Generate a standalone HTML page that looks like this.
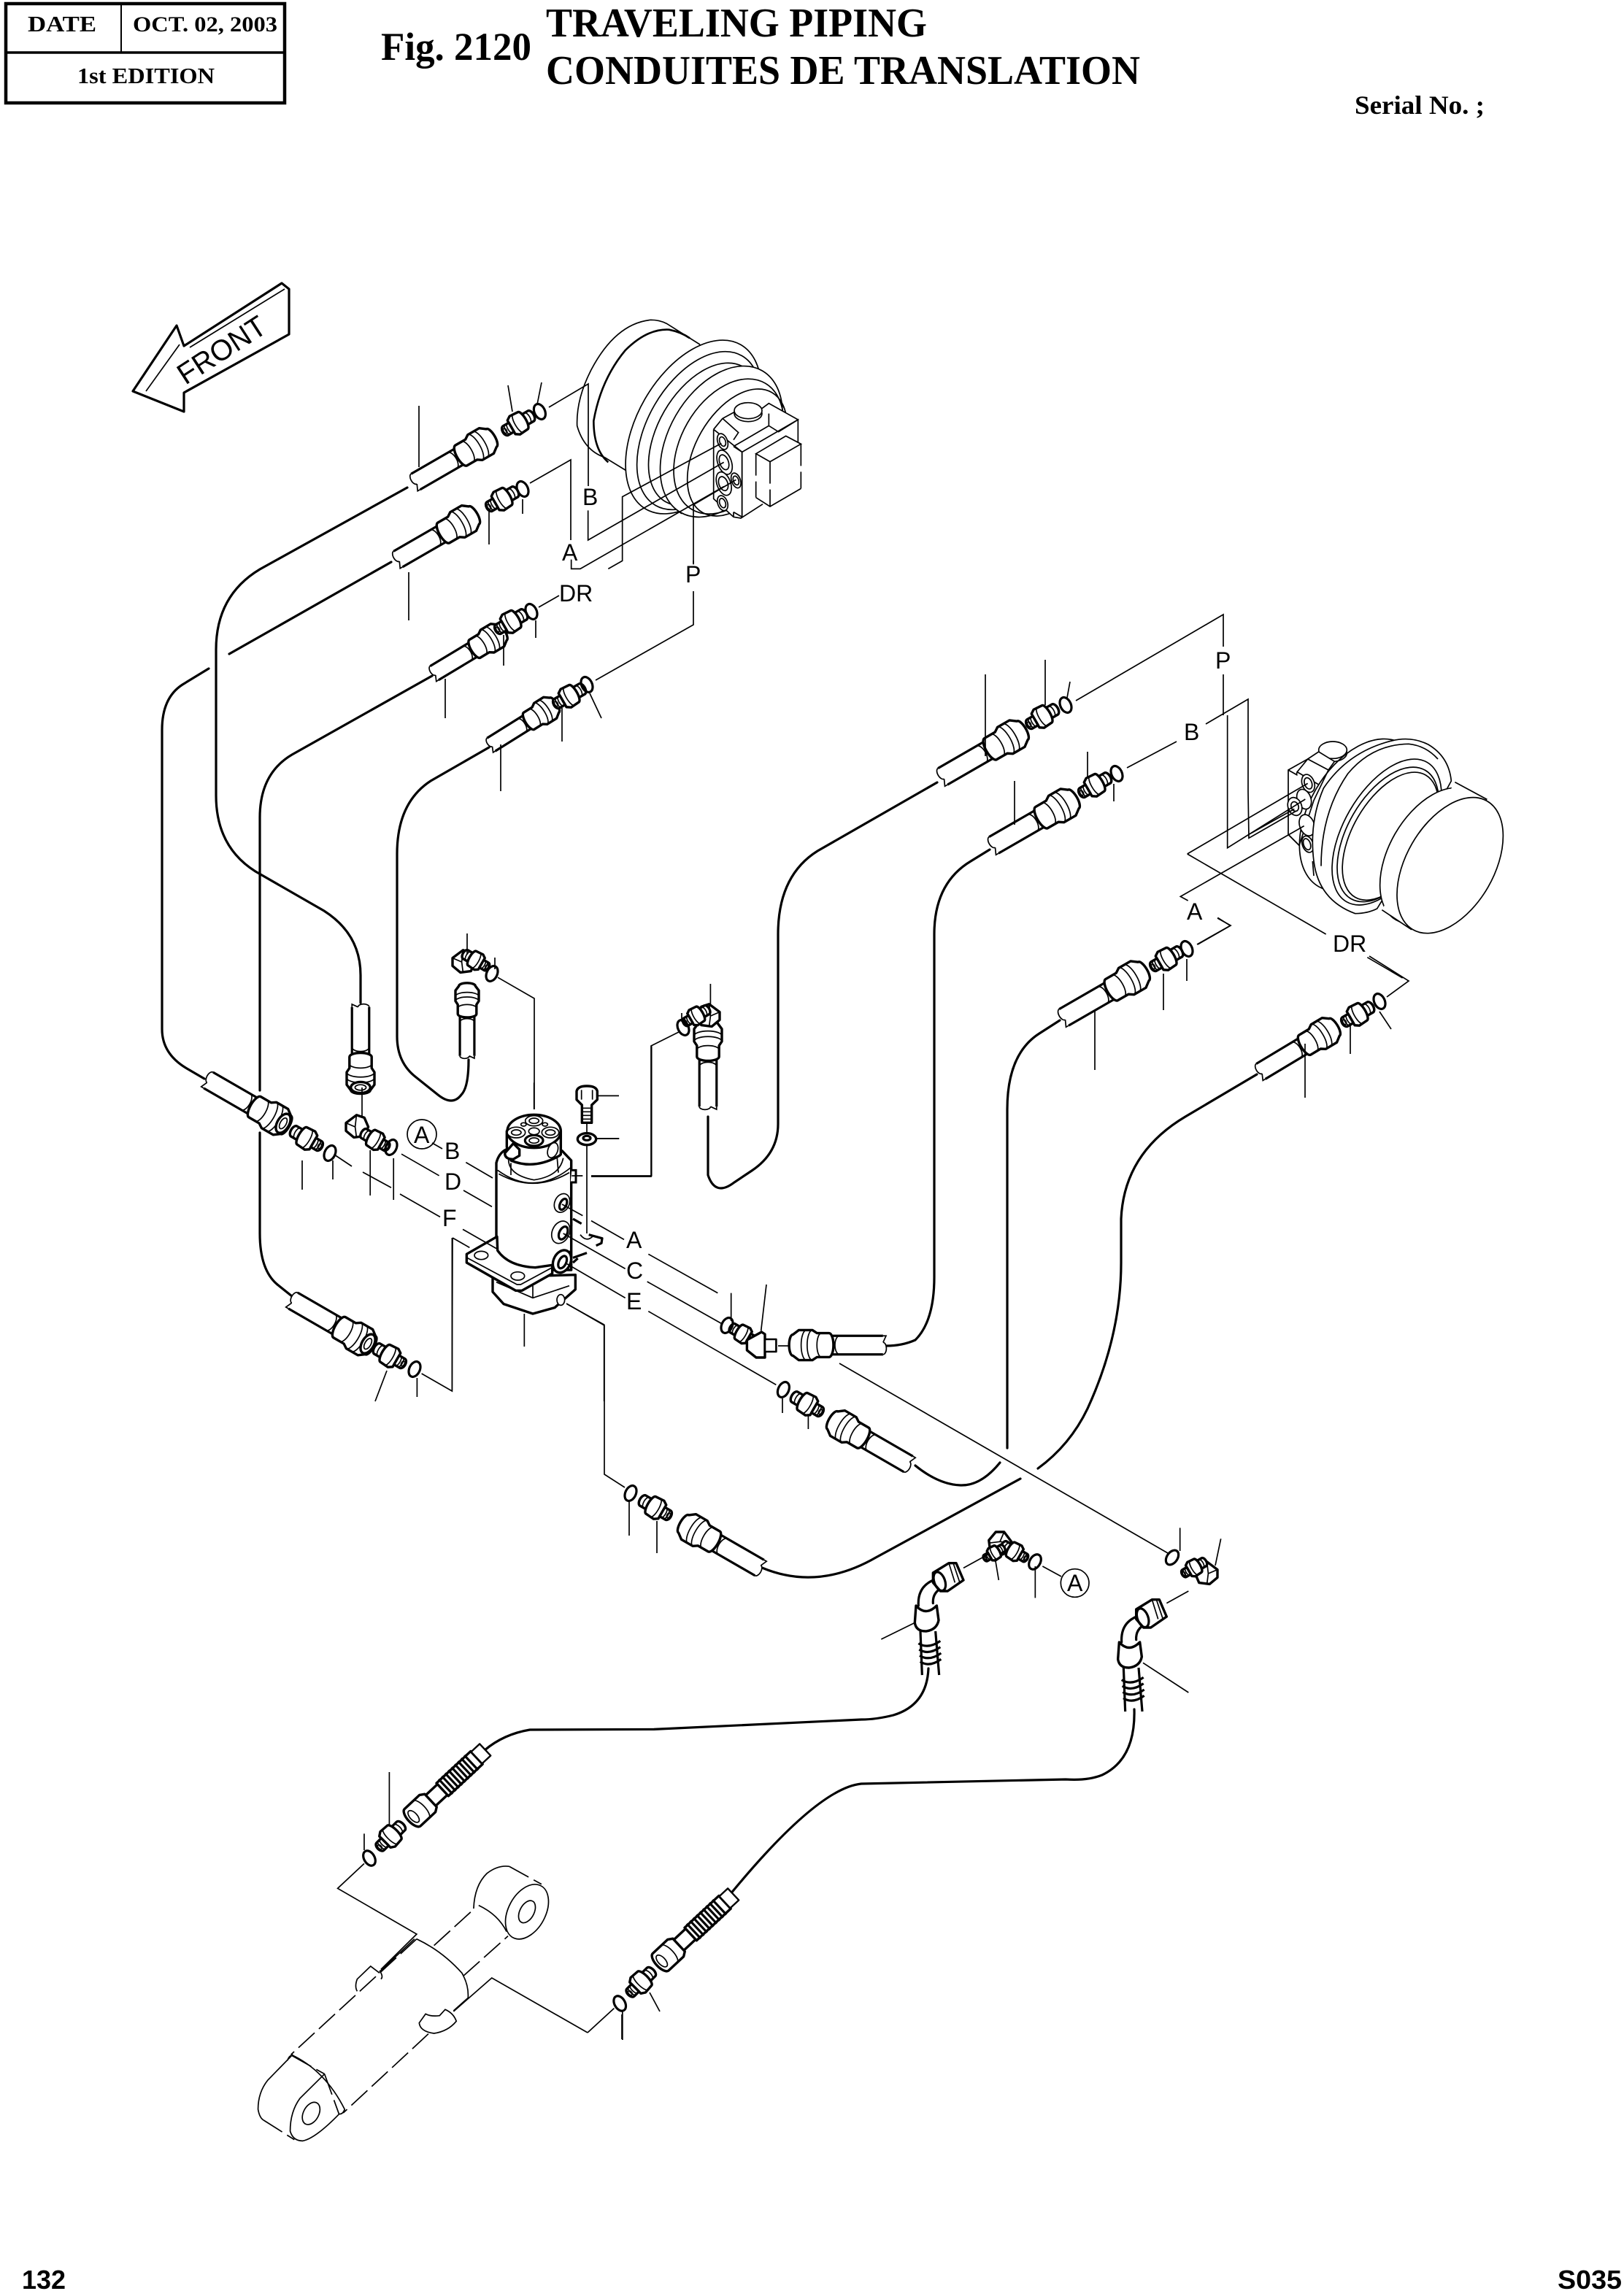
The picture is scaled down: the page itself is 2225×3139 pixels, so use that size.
<!DOCTYPE html>
<html><head><meta charset="utf-8"><style>
html,body{margin:0;padding:0;background:#fff}
svg{display:block}
svg *{vector-effect:non-scaling-stroke}
.t{fill:none;stroke:#000;stroke-width:1.7}
.k{fill:none;stroke:#000;stroke-width:3.2;stroke-linejoin:round}
.w{fill:#fff;stroke:#000;stroke-width:1.7}
.W{fill:#fff;stroke:#000;stroke-width:3.4;stroke-linejoin:round}
.d{fill:none;stroke:#000;stroke-width:1.7;stroke-dasharray:30 8}
.p{fill:none;stroke:#000;stroke-width:3.2;stroke-linecap:round}
text{fill:#000}
.s{font-family:"Liberation Serif",serif;font-weight:bold}
.l{font-family:"Liberation Sans",sans-serif;font-size:16px}
.f{font-family:"Liberation Sans",sans-serif;font-weight:bold;font-size:18px}
</style></head><body>
<svg xmlns="http://www.w3.org/2000/svg" width="2225" height="3139" viewBox="0 0 1112.5 1569.5">
<defs>
<g id="h">
<path class="w" d="M2,-6.2 L40,-6.2 L40,6.2 L2,6.2Z" style="stroke:none"/>
<path class="k" d="M2,-6.2 L40,-6.2 M2,6.2 L40,6.2"/>
<path class="w" d="M2,-6.2 a2.2,4 0 0 0 0,8 M2,1.800 L0,6.200 L2,6.200"/>
<path class="t" d="M31,-6.2 a3,6.2 0 0 1 0,12.4"/>
<path class="W" d="M38,-8 l8,0 l3,-2 l9,0 l4,3 a2.5,7 0 0 1 0,14 l-4,3 l-9,0 l-3,-2 l-8,0 a3,8 0 0 1 0,-16z"/>
<path class="t" d="M49,-10 a3.500,10 0 0 1 0,20 M53,-10 a3.500,10 0 0 1 0,20 M43,-8 a3,8 0 0 1 0,16"/>
</g>
<g id="hf">
<use href="#h"/>
<ellipse class="W" cx="60" cy="0" rx="4" ry="7"/>
<ellipse class="t" cx="60" cy="0" rx="2" ry="4"/>
</g>
<g id="fit">
<path class="W" d="M-11,-4.500 h8 v9 h-8 a2.5,4.500 0 0 1 0,-9z"/>
<path class="t" d="M-8,-4.500 a2,4.500 0 0 0 0,9"/>
<path class="W" d="M-4,-7.500 l7,-.5 l3,2 v12 l-3,2 l-7,-.5 a2.500,7.500 0 0 1 0,-15z"/>
<path class="W" d="M6,-4 h5 a2.5,4 0 0 1 0,8 h-5 z"/>
<path class="t" d="M7.500,-4 a1.500,4 0 0 1 0,8 M9.500,-4 a1.500,4 0 0 1 0,8 M0,-8 a2.500,8 0 0 1 0,16"/>
<ellipse class="t" cx="11.500" cy="0" rx="1.200" ry="2"/>
</g>
<ellipse id="o" class="k" cx="0" cy="0" rx="3.600" ry="5.500"/>
<g id="elb">
<path class="W" d="M-10,-3 L-2,-9 L4,-7 L7,0 L4,7 L-4,8 L-10,3Z"/>
<path class="t" d="M-2,-9 L-3,0 L-10,-3 M-3,0 L-2,8"/>
</g>
<g id="rib">
<path class="W" d="M10,-5 L32,-5 L32,5 L10,5Z"/>
<path class="W" d="M22,-6 L54,-6 L54,6 L22,6Z"/>
<path class="k" d="M25,-7V7M28,-7V7M31,-7V7M34,-7V7M37,-7V7M40,-7V7M43,-7V7M46,-7V7M49,-7V7"/>
<path class="W" d="M54,-5.5 L62,-5.5 L62,5.5 L54,5.5Z" style="stroke-width:2.4"/>
<path class="W" d="M-6,-8 h14 l3,2 v12 l-3,2 h-14 a3.5,8 0 0 1 0,-16z"/>
<ellipse class="t" cx="-5" cy="0" rx="2.5" ry="5"/>
<path class="t" d="M2,-8 a3,8 0 0 1 0,16"/>
</g>
<g id="bent">
<path class="p" d="M175,420 Q170,335 250,310 M235,410 Q232,365 275,345"/>
<path class="W" d="M235,285 L300,245 L330,245 L360,315 L295,360 L265,360 L235,325Z"/>
<ellipse class="k" cx="262" cy="320" rx="22" ry="40" transform="rotate(-20 262 320)"/>
<path class="t" d="M300,245 L325,325 M318,245 L345,325"/>
<path class="W" d="M165,420 L160,490 Q165,525 205,525 Q250,520 258,480 L250,420 Q205,465 165,420Z"/>
<path class="k" d="M183,525 L190,705 M245,525 L260,705"/>
<path class="k" d="M175,575 Q215,600 265,565 M178,600 Q215,625 265,590 M180,625 Q220,650 268,615 M182,650 Q220,675 268,640"/>
</g>
</defs>

<!-- header -->
<rect x="4" y="2.5" width="191" height="68" fill="none" stroke="#000" stroke-width="4.5"/>
<path d="M4,36H195" stroke="#000" stroke-width="3.5"/><path d="M83,3V36" stroke="#000" stroke-width="2"/>
<text class="s" x="19" y="21.5" font-size="15.5" textLength="47" lengthAdjust="spacingAndGlyphs">DATE</text>
<text class="s" x="91" y="21.5" font-size="15" textLength="99" lengthAdjust="spacingAndGlyphs">OCT. 02, 2003</text>
<text class="s" x="53" y="57" font-size="15.5" textLength="94" lengthAdjust="spacingAndGlyphs">1st EDITION</text>
<text class="s" x="261" y="41" font-size="27" textLength="103" lengthAdjust="spacingAndGlyphs">Fig. 2120</text>
<text class="s" x="374" y="25" font-size="28" textLength="261" lengthAdjust="spacingAndGlyphs">TRAVELING PIPING</text>
<text class="s" x="374" y="57.5" font-size="28" textLength="407" lengthAdjust="spacingAndGlyphs">CONDUITES DE TRANSLATION</text>
<text class="s" x="928" y="78" font-size="18" textLength="89" lengthAdjust="spacingAndGlyphs">Serial No. ;</text>
<text class="f" x="15" y="1568" textLength="30" lengthAdjust="spacingAndGlyphs">132</text>
<text class="f" x="1067" y="1568" textLength="44" lengthAdjust="spacingAndGlyphs">S035</text>

<!-- FRONT arrow -->
<path class="k" d="M91,268 L121,223 L126,237 L193,194 L198,198 L198,229 L126,269 L126,282 Z"/>
<path class="t" d="M100,268 L123,236 M130,238 L195,198"/>
<text class="l" transform="translate(127,264) rotate(-33)" style="font-size:20px" textLength="68" lengthAdjust="spacingAndGlyphs">FRONT</text>

<!-- top motor -->
<g transform="translate(350,210) scale(.16667)">
<path class="w" d="M475,675 L385,620 Q300,590 272,490 Q268,380 330,260 Q430,70 575,55 Q610,55 640,70 L775,155 L1000,500 L700,850Z"/>
<path class="t" style="stroke-width:2.6" d="M400,640 Q340,590 340,470 Q370,300 470,180 Q560,90 650,95 Q700,105 735,130"/>
<ellipse class="w" cx="750" cy="495" rx="390" ry="230" transform="rotate(-60 750 495)"/>
<ellipse class="t" cx="772" cy="510" rx="355" ry="210" transform="rotate(-60 772 510)"/>
<ellipse class="w" cx="795" cy="525" rx="320" ry="190" transform="rotate(-60 795 525)"/>
<ellipse class="w" cx="865" cy="555" rx="336" ry="216" transform="rotate(-60 865 555)"/>
<ellipse class="t" cx="895" cy="575" rx="300" ry="195" transform="rotate(-60 895 575)"/>
<ellipse class="t" cx="930" cy="600" rx="285" ry="170" transform="rotate(-60 930 600)"/>
<path class="w" d="M833,505 L870,460 L1030,420 L1060,398 L1180,465 L1180,560 L1192,565 L1192,748 L1065,822 L1035,810 L950,865 L915,865 L833,790Z" stroke="none" style="stroke:none"/>
<path class="t" d="M833,505 L950,598 L950,865 M833,505 L833,790 L915,865 L945,870 L1035,812 M915,845 L915,865 M915,845 L950,865"/>
<path class="t" d="M870,460 L935,518 L915,548 M833,505 L870,460 M915,575 L1060,490 L1100,515 L1180,465 L1060,398 L1030,420 M915,575 L950,598 L1180,465 L1180,560 M1060,490 L1060,440 M870,460 L925,430"/>
<ellipse class="w" cx="975" cy="440" rx="57" ry="33"/><ellipse class="w" cx="975" cy="428" rx="57" ry="33"/>
<path class="w" d="M1007,605 L1130,532 L1192,565 L1065,638Z"/>
<path class="d" d="M1007,605 L1007,785 M1192,565 L1192,748 M1065,638 L1065,822"/>
<path class="t" d="M1007,785 L1065,822 L1192,748 M950,600 L950,860"/>
<ellipse class="w" cx="870" cy="555" rx="20" ry="34" transform="rotate(-20 870 555)"/><ellipse class="t" cx="870" cy="555" rx="12" ry="20" transform="rotate(-20 870 555)"/>
<ellipse class="w" cx="878" cy="640" rx="28" ry="52" transform="rotate(-20 878 640)"/><ellipse class="t" cx="876" cy="640" rx="18" ry="32" transform="rotate(-20 876 640)"/>
<ellipse class="w" cx="875" cy="728" rx="28" ry="50" transform="rotate(-20 875 728)"/><ellipse class="t" cx="873" cy="728" rx="18" ry="30" transform="rotate(-20 873 728)"/>
<ellipse class="w" cx="925" cy="715" rx="18" ry="32" transform="rotate(-20 925 715)"/><ellipse class="t" cx="925" cy="715" rx="11" ry="19" transform="rotate(-20 925 715)"/>
<ellipse class="w" cx="870" cy="808" rx="20" ry="32" transform="rotate(-20 870 808)"/><ellipse class="t" cx="870" cy="808" rx="12" ry="20" transform="rotate(-20 870 808)"/>
<path class="t" d="M750,1060 L750,815 L925,712 M400,1078 L458,1045 L458,782 L865,562 M317,838 L317,960 L875,640 M248,1040 L248,1078 L285,1078 L875,740"/>
</g>

<!-- right motor -->
<g transform="translate(790,490) scale(.16667)">
<ellipse class="w" cx="738" cy="155" rx="58" ry="35"/><ellipse class="w" cx="738" cy="143" rx="58" ry="35"/>
<path class="w" d="M555,225 L635,180 L680,150 L745,190 L720,225 L660,350 L600,535 L555,490Z"/>
<path class="t" d="M590,235 L635,180 L720,225 M555,225 L590,245 L590,235 M590,232 L680,285 M555,490 L600,535"/>
<ellipse class="w" cx="850" cy="410" rx="340" ry="210" transform="rotate(-60 850 410)" style="fill:none"/>
<ellipse class="w" cx="637" cy="280" rx="25" ry="38" transform="rotate(-20 637 280)"/><ellipse class="t" cx="637" cy="280" rx="15" ry="24" transform="rotate(-20 637 280)"/>
<ellipse class="w" cx="620" cy="345" rx="28" ry="42" transform="rotate(-20 620 345)"/>
<ellipse class="w" cx="582" cy="375" rx="28" ry="38" transform="rotate(-20 582 375)"/><ellipse class="t" cx="582" cy="375" rx="15" ry="20" transform="rotate(-20 582 375)"/>
<ellipse class="w" cx="632" cy="452" rx="30" ry="45" transform="rotate(-20 632 452)"/>
<ellipse class="w" cx="635" cy="530" rx="22" ry="35" transform="rotate(-20 635 530)"/><ellipse class="t" cx="632" cy="530" rx="14" ry="24" transform="rotate(-20 632 530)"/>
<path class="w" d="M1225,270 Q1215,170 1130,120 Q1060,85 980,105 Q800,150 700,300 Q640,440 660,600 Q680,760 830,815 Q880,815 920,795 L1100,500Z"/>
<path class="t" d="M660,660 L655,600 M690,620 Q690,400 800,240 Q900,120 1050,118 Q1120,125 1170,180"/>
<ellipse class="w" cx="960" cy="480" rx="331" ry="176" transform="rotate(-60 960 480)"/>
<ellipse class="t" cx="965" cy="490" rx="305" ry="165" transform="rotate(-60 965 490)"/>
<ellipse class="t" cx="975" cy="497" rx="290" ry="155" transform="rotate(-60 975 497)"/>
<path class="w" d="M935,540 L1240,275 L1370,345 L1060,880 L940,800Z" style="stroke:none"/>
<ellipse class="w" cx="1150" cy="577" rx="305" ry="180" transform="rotate(-60 1150 577)"/>
<path class="w" d="M1240,275 L1370,345 L1060,880 L940,800" style="fill:#fff"/>
<ellipse class="w" cx="1220" cy="617" rx="305" ry="180" transform="rotate(-60 1220 617)"/>
<path class="t" d="M390,0 L390,315 L393,505 L585,395 M393,490 L580,385 M305,0 L305,545 L625,345 M140,570 L635,280 M140,570 L710,900 M880,995 L1025,1080 M143,762 L112,745 L620,455 M265,832 L317,865 L183,942"/>
</g>

<!-- pipes -->
<path class="p" d="M279,334 L178,390 Q148,408 148,445 L148,545 Q148,580 175,597 L222,624 Q247,640 247,668 V687"/>
<path class="p" d="M268,385 L157,448 M143,458 L125,469 Q111,478 111,500 V705 Q111,722 128,732 L140,739"/>
<path class="p" d="M296,463 L200,517 Q178,530 178,560 V747 M178,776 V845 Q178,870 190,880 L200,888"/>
<path class="p" d="M335,512 L295,535 Q272,550 272,585 V710 Q272,728 285,738 L300,750 Q310,758 316,750 Q321,745 321,726"/>
<path class="p" d="M642,536 L560,583 Q533,600 533,640 V770 Q533,790 515,802 L503,810 Q490,820 485,805 V765"/>
<path class="p" d="M678,582 L665,590 Q640,605 640,640 V875 Q640,905 627,918 Q618,922 607,922"/>
<path class="p" d="M726,699 L712,708 Q690,722 690,760 V992 M685,1002 Q672,1018 658,1017.500 Q643,1017 627,1004"/>
<path class="p" d="M861,736 L812,765 Q770,790 768,835 V865 Q768,915 745,965 Q733,990 711,1006 M699,1013 L600,1067 Q560,1090 522,1074"/>
<path class="p" d="M636,1143 Q635,1168 612,1175 Q600,1178 590,1178 L448,1184.7 L363,1185 Q345,1188 332,1199"/>
<path class="p" d="M777,1171 Q778,1205 755,1216 Q745,1220 730,1219 L590,1222 Q560,1225 500,1298"/>

<!-- hoses -->
<use href="#h" transform="translate(283,331) rotate(-30)"/>
<use href="#h" transform="translate(271,384) rotate(-30)"/>
<use href="#h" transform="translate(296,462) rotate(-31) scale(.9)"/>
<use href="#h" transform="translate(335,511) rotate(-32) scale(.85)"/>
<use href="#h" transform="translate(644,533) rotate(-30) scale(1.05)"/>
<use href="#h" transform="translate(679,580) rotate(-30) scale(1.05)"/>
<use href="#h" transform="translate(727,698) rotate(-30) scale(1.05)"/>
<use href="#h" transform="translate(862,735) rotate(-31) scale(.98)"/>
<use href="#hf" transform="translate(141,739) rotate(30) scale(1.02)"/>
<use href="#hf" transform="translate(199,890) rotate(30) scale(1.02)"/>
<use href="#h" transform="translate(624,1004) rotate(210)"/>
<use href="#h" transform="translate(522,1075) rotate(210)"/>
<use href="#h" transform="translate(607,921.500) rotate(180) scale(1.03)"/>
<use href="#hf" transform="translate(247,688) rotate(90) scale(.95)"/>
<use href="#h" transform="translate(320,725) rotate(-90) scale(.8)"/>
<use href="#h" transform="translate(485,760) rotate(-90) scale(.95)"/>
<use href="#rib" transform="translate(287,1241) rotate(-43)"/>
<use href="#rib" transform="translate(457,1340) rotate(-43)"/>

<!-- fittings -->
<use href="#fit" transform="translate(355,290) rotate(150) scale(.9)"/><use href="#o" transform="translate(369.700,282) rotate(-25)"/>
<use href="#fit" transform="translate(344,342) rotate(150) scale(.9)"/><use href="#o" transform="translate(358,335) rotate(-25)"/>
<use href="#fit" transform="translate(350,426) rotate(150) scale(.9)"/><use href="#o" transform="translate(364,419) rotate(-25)"/>
<use href="#fit" transform="translate(390,477) rotate(150) scale(.9)"/><use href="#o" transform="translate(402,469) rotate(-25)"/>
<use href="#fit" transform="translate(714,491) rotate(150) scale(.9)"/><use href="#o" transform="translate(730,483) rotate(-25)"/>
<use href="#fit" transform="translate(750,538) rotate(150) scale(.9)"/><use href="#o" transform="translate(765,530) rotate(-25)"/>
<use href="#fit" transform="translate(799,657) rotate(150) scale(.9)"/><use href="#o" transform="translate(813,650) rotate(-25)"/>
<use href="#fit" transform="translate(930,695) rotate(150) scale(.9)"/><use href="#o" transform="translate(945,686) rotate(-25)"/>
<use href="#fit" transform="translate(210,780) rotate(30) scale(.9)"/><use href="#o" transform="translate(226,790) rotate(25)"/>
<use href="#fit" transform="translate(267,929) rotate(30) scale(.9)"/><use href="#o" transform="translate(284,938) rotate(25)"/>
<use href="#fit" transform="translate(553,962) rotate(30) scale(.9)"/><use href="#o" transform="translate(536.700,952) rotate(25)"/>
<use href="#fit" transform="translate(449,1033) rotate(30) scale(.9)"/><use href="#o" transform="translate(432,1023) rotate(25)"/>
<use href="#fit" transform="translate(267.500,1258) rotate(135) scale(.9)"/><use href="#o" transform="translate(253,1273) rotate(-30)"/>
<use href="#fit" transform="translate(439,1358) rotate(135) scale(.9)"/><use href="#o" transform="translate(424.600,1372.500) rotate(-30)"/>

<!-- elbows -->
<use href="#elb" transform="translate(246,772) scale(.9)"/><use href="#fit" transform="translate(257,781) rotate(30) scale(.8)"/><use href="#o" transform="translate(268,786) rotate(25)"/>
<use href="#elb" transform="translate(319,659) scale(.9)"/><use href="#fit" transform="translate(326,658) rotate(30) scale(.75)"/><use href="#o" transform="translate(337,667) rotate(25)"/>
<use href="#elb" transform="translate(484,696) scale(-.9,.9)"/><use href="#fit" transform="translate(477,696) rotate(150) scale(.75)"/><use href="#o" transform="translate(468,704) rotate(-25)"/>
<use href="#fit" transform="translate(509,914) rotate(30) scale(.75)"/><use href="#o" transform="translate(498,908) rotate(25)"/>
<path class="W" d="M511.700,918 L521.700,912.500 L524,914 L524,930 L518,930 L511.700,925Z"/>
<path class="W" d="M524,917.500 h7.700 v8.500 h-7.700z" style="stroke-width:2.6"/>
<path class="t" d="M533,922H540"/>
<use href="#elb" transform="translate(825,1078) scale(-.9,.9)"/><use href="#fit" transform="translate(818,1074) rotate(150) scale(.7)"/><use href="#o" transform="translate(803,1067) rotate(35)"/>
<use href="#elb" transform="translate(685,1059) rotate(90) scale(.95)"/><use href="#fit" transform="translate(695,1063) rotate(30) scale(.75)"/><use href="#o" transform="translate(709,1070) rotate(30)"/>
<use href="#fit" transform="translate(681,1064) rotate(150) scale(.6)"/>

<!-- bent hoses -->
<g transform="translate(600,1030) scale(.16667)">
<use href="#bent"/>
<use href="#bent" transform="translate(835,150)"/>
<path class="t" d="M360,265 L460,210 M490,225 L505,315 M655,258 L655,388 M685,258 L762,300 M22,558 L160,490 M1250,100 L1250,195 M1418,145 L1395,255 M1195,410 L1285,360 M1098,655 L1285,777"/>
<circle class="t" cx="818" cy="327" r="58"/>
</g>

<!-- rotary joint -->
<g transform="translate(300,750) scale(.16667)">
<path class="W" d="M225,750 L225,810 L270,860 L390,900 L480,875 L565,800 L565,740Z"/>
<path class="t" d="M240,770 L390,835 L540,785 M390,785 L390,835"/>
<ellipse class="w" cx="505" cy="843" rx="16" ry="22"/>
<path class="W" d="M240,280 Q250,240 280,225 L510,230 L548,270 L548,720 L240,720Z"/>
<path class="t" d="M245,310 Q395,420 545,300 M250,325 Q395,405 540,320 M290,265 Q290,330 395,350 Q500,335 515,260 M245,640 Q290,705 400,710 Q440,710 470,700"/>
<path class="W" d="M118,655 L243,583 L245,640 Q290,705 400,710 L470,700 L470,735 L345,805 L320,805 L118,690Z"/>
<path class="t" d="M120,670 L325,780 L340,780 L470,710"/>
<ellipse class="w" cx="178" cy="660" rx="28" ry="17"/><ellipse class="w" cx="328" cy="745" rx="28" ry="17"/>
<path class="k" d="M548,520 L548,540 M545,640 L548,660"/>
<path class="w" d="M550,310 L567,310 L567,360 L545,360" style="stroke-width:3"/>
<path class="W" d="M283,150 L283,215 L300,270 Q395,310 500,250 L505,245 L505,150Z"/>
<path class="t" d="M300,280 L300,330 M490,260 L495,320"/>
<ellipse class="W" cx="395" cy="150" rx="110" ry="68"/>
<ellipse class="w" cx="395" cy="107" rx="36" ry="21"/><ellipse class="t" cx="395" cy="107" rx="20" ry="11"/>
<ellipse class="w" cx="322" cy="155" rx="37" ry="22"/><ellipse class="t" cx="322" cy="155" rx="20" ry="11"/>
<ellipse class="w" cx="462" cy="155" rx="35" ry="22"/><ellipse class="t" cx="462" cy="155" rx="20" ry="11"/>
<ellipse class="k" cx="395" cy="188" rx="37" ry="22"/><ellipse class="t" cx="395" cy="188" rx="20" ry="11"/>
<ellipse class="w" cx="395" cy="150" rx="22" ry="14"/>
<ellipse class="t" cx="352" cy="122" rx="11" ry="7"/><ellipse class="t" cx="440" cy="122" rx="11" ry="7"/>
<path class="W" d="M275,240 L310,200 L335,225 L335,250 L310,265 Q275,265 275,240Z"/>
<ellipse class="w" cx="472" cy="228" rx="20" ry="32" transform="rotate(20 472 228)"/>
<ellipse class="w" cx="510" cy="445" rx="30" ry="40" transform="rotate(25 510 445)"/><ellipse class="k" cx="515" cy="450" rx="13" ry="24" transform="rotate(25 515 450)"/>
<ellipse class="w" cx="505" cy="565" rx="35" ry="48" transform="rotate(25 505 565)"/><ellipse class="k" cx="515" cy="568" rx="16" ry="28" transform="rotate(25 515 568)"/>
<ellipse class="W" cx="510" cy="685" rx="35" ry="48" transform="rotate(25 510 685)"/><ellipse class="k" cx="512" cy="688" rx="15" ry="27" transform="rotate(25 512 688)"/>
<path class="k" d="M555,510 L590,530 M620,575 L675,590 L672,610 L650,620 M555,670 L612,650 M555,690 L575,672"/>
<path class="t" d="M585,575 Q612,610 640,578"/>
<path class="W" d="M570,-15 Q575,-36 612,-36 Q650,-36 655,-15 L655,20 L632,42 L632,115 L592,115 L592,42 L570,20Z"/>
<path class="t" d="M592,55H632M592,70H632M592,85H632M592,100H632M590,-20 L590,20 M635,-20 L635,20"/>
<ellipse class="W" cx="612" cy="182" rx="38" ry="24"/><ellipse class="k" cx="612" cy="178" rx="15" ry="9"/>
<path class="t" d="M612,118 V155 M612,207 V570 M655,180 H745 M395,-50 V60 M630,333 H878 V-200 M550,333 H595 M355,900 V1035 M530,860 L683,945 V1260 M510,450 L595,497 M630,518 L765,595 M865,655 L1150,815 M515,570 L770,715 M860,768 L1165,940 M530,695 L770,835 M865,890 L1390,1192 M115,278 L225,342 M105,393 L222,460 M102,553 L240,632 M60,588 L130,628 M60,588 L58,1215 M1205,815 V930 M1350,780 L1328,970"/>
</g>

<!-- cylinder -->
<g transform="translate(150,1250) scale(.1913,.16667)">
<path class="t" d="M912,345 Q915,250 960,200 Q1000,165 1040,172"/>
<path class="d" d="M1040,172 L1155,245 M770,497 L915,345 M875,622 L1035,458 M708,470 L258,945 M750,860 L445,1185 M262,950 L378,1025 M378,1025 L430,1190 M160,1215 L270,1295"/>
<ellipse class="w" cx="1103" cy="358" rx="68" ry="118" transform="rotate(22 1103 358)"/>
<ellipse class="t" cx="1103" cy="358" rx="26" ry="48" transform="rotate(22 1103 358)"/>
<path class="t" d="M930,332 Q1000,370 1030,440 M708,470 Q800,520 870,610 Q895,660 892,712 L840,765 M575,610 L543,582 L495,635 Q485,665 495,685 M575,600 Q590,625 580,635"/>
<path class="t" d="M810,760 L790,785 Q760,790 740,778 L717,815 Q720,850 770,858 Q820,850 850,808 Q840,775 810,760Z"/>
<path class="t" d="M258,945 Q380,1010 450,1170 Q445,1190 430,1190 M245,970 Q250,950 265,945 M378,1025 L290,1125 Q255,1180 255,1260 Q265,1300 300,1300 Q345,1290 430,1190 M260,950 L175,1050 Q140,1100 140,1170 Q145,1205 160,1215"/>
<ellipse class="t" cx="330" cy="1187" rx="28" ry="48" transform="rotate(22 330 1187)"/>
<path class="t" d="M520,37 V105 M520,160 L425,262 L708,450 L580,595 M700,470 L575,605 M1320,855 L1415,755 M1320,855 L977,630 L840,768 M1445,885 V765"/>
</g>

<!-- leaders (root coords) -->
<path class="t" d="M287,278V320 M280,392V425 M305,465V492 M343,510V542 M675,462V518 M695,535V565 M750,692V733 M894,715V752"/>
<path class="t" d="M348,264L351,282 M371,262L368,277 M335,350V373 M358,342V352 M345,435V456 M367,425V437 M385,485V508 M404,475L412,492 M716,452V483 M733,467L731,478 M745,515V532 M763,537V549 M797,667V692 M813,657V672 M925,702V722 M945,693L953,705"/>
<path class="t" d="M536,958V968 M553.700,970V979 M450,1042V1064 M431,1028V1052 M266.700,1214V1250 M445,1365L452,1378 M426,1380V1397"/>
<path class="t" d="M376,279 L403,263 V333 M363,331 L391,315 V370 M369,416 L383,408 M408,466 L475,428 V405 M475,384V386"/>
<path class="t" d="M737,480 L838,421 V443 M838,462 V490 M772,526 L806,508 M826,496 L855,479 V490"/>
<path class="t" d="M820,647 L843,634 L834,629 M950,683 L965,672 L938,655"/>
<path class="t" d="M207,795V815 M228,795V808 M253.6,788V819 M269.6,793.5V822 M248,745V765 M265,939L257,960 M285.7,944V957"/>
<path class="t" d="M275,790.6 L300.8,805.4 M229,791 L241,799 M248.5,803 L268,813.6 M274,818 L301.5,833.7 M296,783 L303,787"/>
<path class="t" d="M309.7,848 V953 L288.8,941"/>
<path class="t" d="M320,639.5V654 M339,656V664 M341,669.6 L366,684 V760 M467,694V700 M466,706.5 L446,716.5 V806 H405 M486.7,674V688 M408.7,750.7H424 M408.7,780H424"/>
<path class="t" d="M388,893 L414,908 V1010 L428,1019 M575,934 L800,1064"/>
<circle class="t" cx="289" cy="777" r="10"/>
<text class="l" x="283.5" y="783">A</text>

<!-- labels -->
<text class="l" x="399" y="346">B</text>
<text class="l" x="385" y="384">A</text>
<text class="l" x="383" y="412">DR</text>
<text class="l" x="469.500" y="399">P</text>
<text class="l" x="832.500" y="458">P</text>
<text class="l" x="811" y="507">B</text>
<text class="l" x="813" y="630">A</text>
<text class="l" x="913" y="652">DR</text>
<text class="l" x="304.500" y="794">B</text>
<text class="l" x="304.500" y="815">D</text>
<text class="l" x="303" y="840">F</text>
<text class="l" x="429" y="855">A</text>
<text class="l" x="429" y="876">C</text>
<text class="l" x="429" y="897">E</text>
<text class="l" x="731" y="1090">A</text>
</svg>
</body></html>
